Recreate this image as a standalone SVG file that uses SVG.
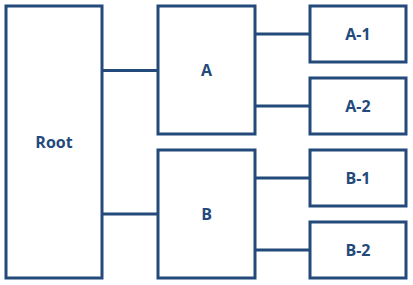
<svg xmlns="http://www.w3.org/2000/svg" width="413" height="285" viewBox="0 0 413 285">
<style>
.box{fill:#fff;stroke:#234a7b;stroke-width:3}
.ln{stroke:#234a7b;stroke-width:3;fill:none}
.t{font-family:"Open Sans","Liberation Sans",sans-serif;font-weight:bold;font-size:16px;fill:#234a7b;text-anchor:middle;dominant-baseline:central}
</style>
<rect width="413" height="285" fill="#fff"/>
<g id="connectors">
<line class="ln" x1="102" y1="70.5" x2="158" y2="70.5"/>
<line class="ln" x1="102" y1="214" x2="158" y2="214"/>
<line class="ln" x1="255" y1="34" x2="310" y2="34"/>
<line class="ln" x1="255" y1="106" x2="310" y2="106"/>
<line class="ln" x1="255" y1="178" x2="310" y2="178"/>
<line class="ln" x1="255" y1="250" x2="310" y2="250"/>
</g>
<g id="root"><rect class="box" x="6" y="6" width="96" height="272"/><text class="t" x="54" y="141.5">Root</text></g>
<g id="a"><rect class="box" x="158" y="6" width="97" height="128"/><text class="t" x="206.5" y="70">A</text></g>
<g id="b"><rect class="box" x="158" y="150" width="97" height="128"/><text class="t" x="206.5" y="214">B</text></g>
<g id="a1"><rect class="box" x="310" y="6" width="96" height="56"/><text class="t" x="358" y="33.5">A-1</text></g>
<g id="a2"><rect class="box" x="310" y="78" width="96" height="56"/><text class="t" x="358" y="105.5">A-2</text></g>
<g id="b1"><rect class="box" x="310" y="150" width="96" height="56"/><text class="t" x="358" y="177.5">B-1</text></g>
<g id="b2"><rect class="box" x="310" y="222" width="96" height="56"/><text class="t" x="358" y="249.5">B-2</text></g>
</svg>
